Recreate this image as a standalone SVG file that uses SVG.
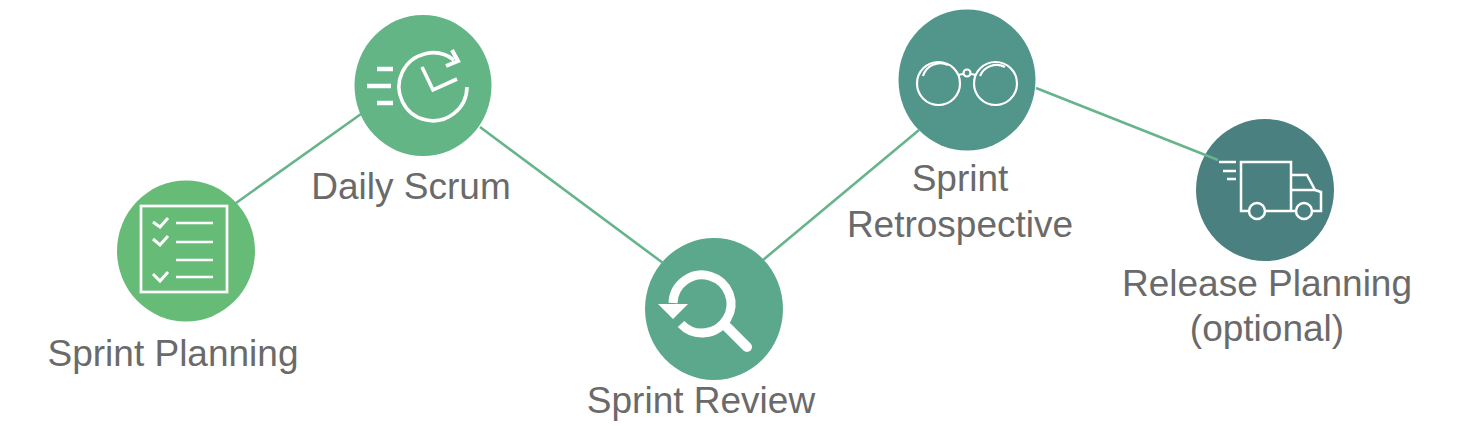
<svg xmlns="http://www.w3.org/2000/svg" width="1460" height="430" viewBox="0 0 1460 430">
<style>
.lbl{font-family:"Liberation Sans",Arial,sans-serif;font-size:37px;fill:#6a6a6a;text-anchor:middle}
.con{stroke:#66b48c;stroke-width:2.6;fill:none}
.ic{fill:none;stroke:#fff;stroke-linecap:butt;stroke-linejoin:miter}
</style>
<rect width="1460" height="430" fill="#fff"/>
<g id="sprint-planning">
<ellipse cx="186" cy="251" rx="69" ry="70.5" fill="#66bc77"/>
<g class="ic">
<rect x="141" y="206" width="86" height="86" stroke-width="2.7"/>
<path d="M153 222l7 5 8-9M153 239l7 6 8-9M153 274l7 7 8-9" stroke-width="3"/>
<path d="M176 223h37M176 242h37M176 260h37M176 277h37" stroke-width="2.4"/>
</g>
<text class="lbl" x="173" y="366">Sprint Planning</text>
</g>
<g id="daily-scrum">
<ellipse cx="423" cy="85.5" rx="68.5" ry="70.5" fill="#63b585"/>
<g class="ic">
<path d="M467 87A34 34 0 1 1 454 60" stroke-width="3.6"/>
<path d="M422 67l11 23 24-11" stroke-width="3.6"/>
<path d="M377 69h16M367 86h24M377 103h16" stroke-width="4.5"/>
<path d="M452 50l6 11-12 5" stroke-width="4"/>
</g>
<text class="lbl" x="411" y="199">Daily Scrum</text>
</g>
<g id="sprint-review">
<ellipse cx="714" cy="309" rx="69" ry="71" fill="#5ca88c"/>
<g class="ic">
<path d="M673 303A29 29 0 1 1 681 324" stroke-width="9"/>
<path d="M727 327l20 20" stroke-width="10" stroke-linecap="round"/>
</g>
<path d="M658 304h30l-15 15z" fill="#fff"/>
<text class="lbl" x="701" y="413">Sprint Review</text>
</g>
<g id="sprint-retrospective">
<ellipse cx="967" cy="80" rx="68.5" ry="70.5" fill="#52958a"/>
<g class="ic" stroke-width="2.2">
<circle cx="938.5" cy="83.5" r="21.5"/>
<circle cx="995.5" cy="83.5" r="21.5"/>
<circle cx="967" cy="73" r="3.5"/>
<path d="M958 75l5-1M971 74l5 1"/>
<path d="M923 76A18 18 0 0 1 948 65M980 76A18 18 0 0 1 1005 67"/>
</g>
<text class="lbl" x="960" y="191">Sprint</text>
<text class="lbl" x="960" y="237">Retrospective</text>
</g>
<g id="release-planning">
<ellipse cx="1265" cy="190" rx="69" ry="71" fill="#4a807f"/>
<g class="ic" stroke-width="2.5">
<path d="M1249 211h-8v-49h50v49h5M1265 211h26"/>
<path d="M1291 175h16l8 15h-24M1315 190l6 2v19h-9"/>
<circle cx="1257" cy="211" r="8"/>
<circle cx="1304" cy="211" r="8"/>
<path d="M1219 162h17M1223 171h13M1227 179h9"/>
</g>
<text class="lbl" x="1267" y="296">Release Planning</text>
<text class="lbl" x="1267" y="341">(optional)</text>
</g>
<g id="connectors">
<line class="con" x1="236" y1="203" x2="361" y2="114"/>
<line class="con" x1="480" y1="127" x2="663" y2="263"/>
<line class="con" x1="763" y1="260" x2="919" y2="130"/>
<line class="con" x1="1036" y1="88" x2="1218" y2="160"/>
</g>
</svg>
